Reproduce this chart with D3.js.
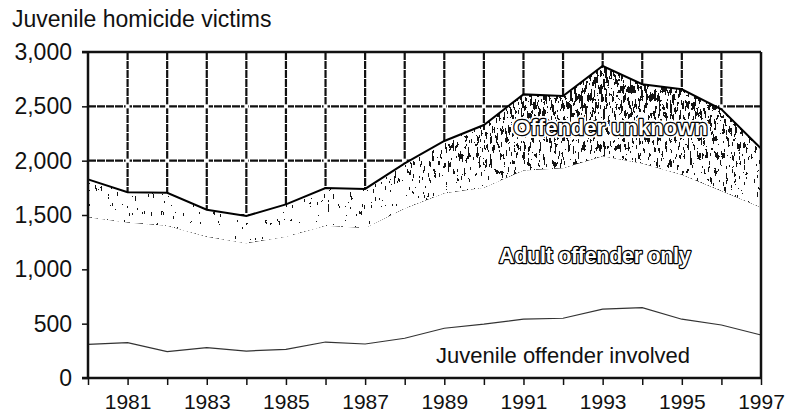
<!DOCTYPE html>
<html>
<head>
<meta charset="utf-8">
<script src="https://cdn.jsdelivr.net/npm/d3@7"></script>
<style>
  body { margin: 0; background: #fff; }
  text { font-family: "Liberation Sans", Arial, sans-serif; }
</style>
</head>
<body>
<div id="chart"></div>
<script>
// Data
const years = [1980, 1981, 1982, 1983, 1984, 1985, 1986, 1987, 1988,
               1989, 1990, 1991, 1992, 1993, 1994, 1995, 1996, 1997];
const juvenileInvolved = [310, 325, 242, 279, 248, 264, 331, 313, 366,
                          458, 495, 541, 550, 633, 648, 541, 488, 396];
const adultOnly = [1170, 1105, 1158, 1021, 992, 1036, 1069, 1067, 1194,
                   1242, 1255, 1369, 1380, 1407, 1327, 1329, 1232, 1174];
const offenderUnknown = [348, 279, 305, 248, 251, 298, 348, 360, 415,
                         481, 578, 700, 665, 831, 728, 787, 753, 542];
const yTicks = [0, 500, 1000, 1500, 2000, 2500, 3000];
const xLabelYears = [1981, 1983, 1985, 1987, 1989, 1991, 1993, 1995, 1997];

// Set the dimensions and margins of the graph
const margin = {top: 52, right: 34, bottom: 37, left: 88},
      width = 795 - margin.left - margin.right,
      height = 415 - margin.top - margin.bottom;

const svgRoot = d3.select("#chart")
  .append("svg")
    .attr("width", 795)
    .attr("height", 415);

const svg = svgRoot.append("g")
    .attr("transform", `translate(${margin.left},${margin.top})`);

const x = d3.scaleLinear().domain([1980, 1997]).range([0, width]);
const y = d3.scaleLinear().domain([0, 3000]).range([height, 0]);

const rows = years.map((yr, i) => ({
  year: yr,
  juvenile: juvenileInvolved[i],
  adult: adultOnly[i],
  unknown: offenderUnknown[i]
}));
const layers = d3.stack().keys(["juvenile", "adult", "unknown"])(rows);

// Stipple: gradient darker toward the top, dithered with noise
const defs = svgRoot.append("defs");
const grad = defs.append("linearGradient")
    .attr("id", "shade")
    .attr("gradientUnits", "userSpaceOnUse")
    .attr("x1", 0).attr("x2", 0)
    .attr("y1", y(3000)).attr("y2", y(1100));
[[3000, 0.5], [2500, 0.55], [2000, 0.62], [1700, 0.69], [1400, 0.76], [1100, 0.84]]
  .forEach(([v, g]) => {
    const c = Math.round(g * 255);
    grad.append("stop")
      .attr("offset", (y(v) - y(3000)) / (y(1100) - y(3000)))
      .attr("stop-color", `rgb(${c},${c},${c})`);
  });

const filt = defs.append("filter")
    .attr("id", "stipple")
    .attr("filterUnits", "userSpaceOnUse")
    .attr("x", -5).attr("y", -5).attr("width", width + 10).attr("height", height + 10)
    .attr("color-interpolation-filters", "sRGB");
filt.append("feTurbulence")
    .attr("type", "fractalNoise").attr("baseFrequency", "0.45 0.12")
    .attr("numOctaves", 3).attr("seed", 7).attr("result", "noise");
filt.append("feColorMatrix")
    .attr("in", "noise").attr("type", "matrix")
    .attr("values", "1 0 0 0 0  1 0 0 0 0  1 0 0 0 0  0 0 0 0 1")
    .attr("result", "gn");
filt.append("feComposite")
    .attr("in", "SourceGraphic").attr("in2", "gn").attr("operator", "arithmetic")
    .attr("k1", 0).attr("k2", 1).attr("k3", 1).attr("k4", -0.5)
    .attr("result", "sum");
const ct = filt.append("feComponentTransfer").attr("in", "sum").attr("result", "thr");
["feFuncR", "feFuncG", "feFuncB"].forEach(f =>
  ct.append(f).attr("type", "discrete").attr("tableValues", "0.08 1"));
filt.append("feComposite")
    .attr("in", "thr").attr("in2", "SourceGraphic").attr("operator", "in");

// Grid
const gridYears = years.filter(d => d > 1980 && d < 1997);
const gridVals = yTicks.filter(d => d > 0 && d < 3000);
svg.append("g").selectAll("line")
  .data(gridYears)
  .enter().append("line")
    .attr("x1", d => x(d)).attr("x2", d => x(d))
    .attr("y1", 0).attr("y2", height)
    .attr("stroke", "#111").attr("stroke-width", 2.2)
    .attr("stroke-dasharray", "8 1");
svg.append("g").selectAll("line")
  .data(gridVals)
  .enter().append("line")
    .attr("x1", 0).attr("x2", width)
    .attr("y1", d => y(d)).attr("y2", d => y(d))
    .attr("stroke", "#111").attr("stroke-width", 2.2)
    .attr("stroke-dasharray", "8 1");
// small white gaps where grid lines cross
svg.append("g").selectAll("rect")
  .data(d3.cross(gridYears, gridVals))
  .enter().append("rect")
    .attr("x", d => x(d[0]) - 2).attr("y", d => y(d[1]) - 2)
    .attr("width", 4).attr("height", 4)
    .attr("fill", "#fff");

// Areas
const area = d3.area()
    .x(d => x(d.data.year))
    .y0(d => y(d[0]))
    .y1(d => y(d[1]));

svg.append("path")
    .datum(layers[2])
    .attr("d", d3.area().x(d => x(d.data.year)).y0(height).y1(d => y(d[1])))
    .attr("fill", "#fff");

svg.append("path")
    .datum(layers[2])
    .attr("d", area)
    .attr("fill", "url(#shade)")
    .attr("filter", "url(#stipple)");

// Lines
const line = d3.line().x(d => x(d.data.year)).y(d => y(d[1]));
svg.append("path")
    .datum(layers[0])
    .attr("d", line)
    .attr("fill", "none")
    .attr("stroke", "#333")
    .attr("stroke-width", 1.2);
svg.append("path")
    .datum(layers[2])
    .attr("d", line)
    .attr("fill", "none")
    .attr("stroke", "#000")
    .attr("stroke-width", 2);

// Y axis
const yAxis = svg.append("g")
    .call(d3.axisLeft(y).tickValues(yTicks).tickFormat(d3.format(",")).tickSize(6).tickPadding(10).tickSizeOuter(0));
yAxis.select(".domain").remove();
yAxis.selectAll("line").attr("stroke", "#111").attr("stroke-width", 1.5);
yAxis.selectAll("text").style("font-size", "23px").style("fill", "#111");

// X axis
const xAxis = svg.append("g")
    .attr("transform", `translate(0,${height})`)
    .call(d3.axisBottom(x).tickValues(years)
      .tickFormat(d => xLabelYears.includes(d) ? d : "")
      .tickSize(7).tickPadding(9).tickSizeOuter(0));
xAxis.select(".domain").remove();
xAxis.selectAll("line").attr("stroke", "#111").attr("stroke-width", 1.5);
xAxis.selectAll("text").style("font-size", "21px").style("fill", "#111");

// Frame
svg.append("line").attr("x1", -6).attr("x2", width).attr("y1", 0).attr("y2", 0)
    .attr("stroke", "#111").attr("stroke-width", 2.5);
svg.append("line").attr("x1", 0).attr("x2", 0).attr("y1", 0).attr("y2", height)
    .attr("stroke", "#111").attr("stroke-width", 2.5);
svg.append("line").attr("x1", -6).attr("x2", width).attr("y1", height).attr("y2", height)
    .attr("stroke", "#111").attr("stroke-width", 2.5);
svg.append("line").attr("x1", width).attr("x2", width).attr("y1", 0).attr("y2", height)
    .attr("stroke", "#111").attr("stroke-width", 2.5);

// Title
svgRoot.append("text")
    .attr("x", 12).attr("y", 27)
    .style("font-size", "23px")
    .style("fill", "#111")
    .text("Juvenile homicide victims");

// Series labels (outlined lettering)
svg.append("text")
    .attr("x", x(1993.2)).attr("y", y(2236))
    .attr("text-anchor", "middle")
    .style("font-size", "22px")
    .style("font-weight", "bold")
    .style("fill", "none")
    .attr("stroke", "#fff").attr("stroke-width", 6)
    .attr("stroke-linejoin", "round")
    .text("Offender unknown");
svg.append("text")
    .attr("x", x(1993.2)).attr("y", y(2236))
    .attr("text-anchor", "middle")
    .style("font-size", "22px")
    .style("font-weight", "bold")
    .style("fill", "#fff")
    .style("paint-order", "stroke")
    .attr("stroke", "#000").attr("stroke-width", 2.4)
    .attr("stroke-linejoin", "round")
    .text("Offender unknown");

svg.append("text")
    .attr("x", x(1992.8)).attr("y", y(1060))
    .attr("text-anchor", "middle")
    .style("font-size", "21.5px")
    .style("font-weight", "bold")
    .style("letter-spacing", "-0.3px")
    .style("fill", "#fff")
    .style("paint-order", "stroke")
    .attr("stroke", "#000").attr("stroke-width", 2.4)
    .attr("stroke-linejoin", "round")
    .text("Adult offender only");

svg.append("text")
    .attr("x", x(1992)).attr("y", y(140))
    .attr("text-anchor", "middle")
    .style("font-size", "22px")
    .style("fill", "#111")
    .text("Juvenile offender involved");
</script>
</body>
</html>
